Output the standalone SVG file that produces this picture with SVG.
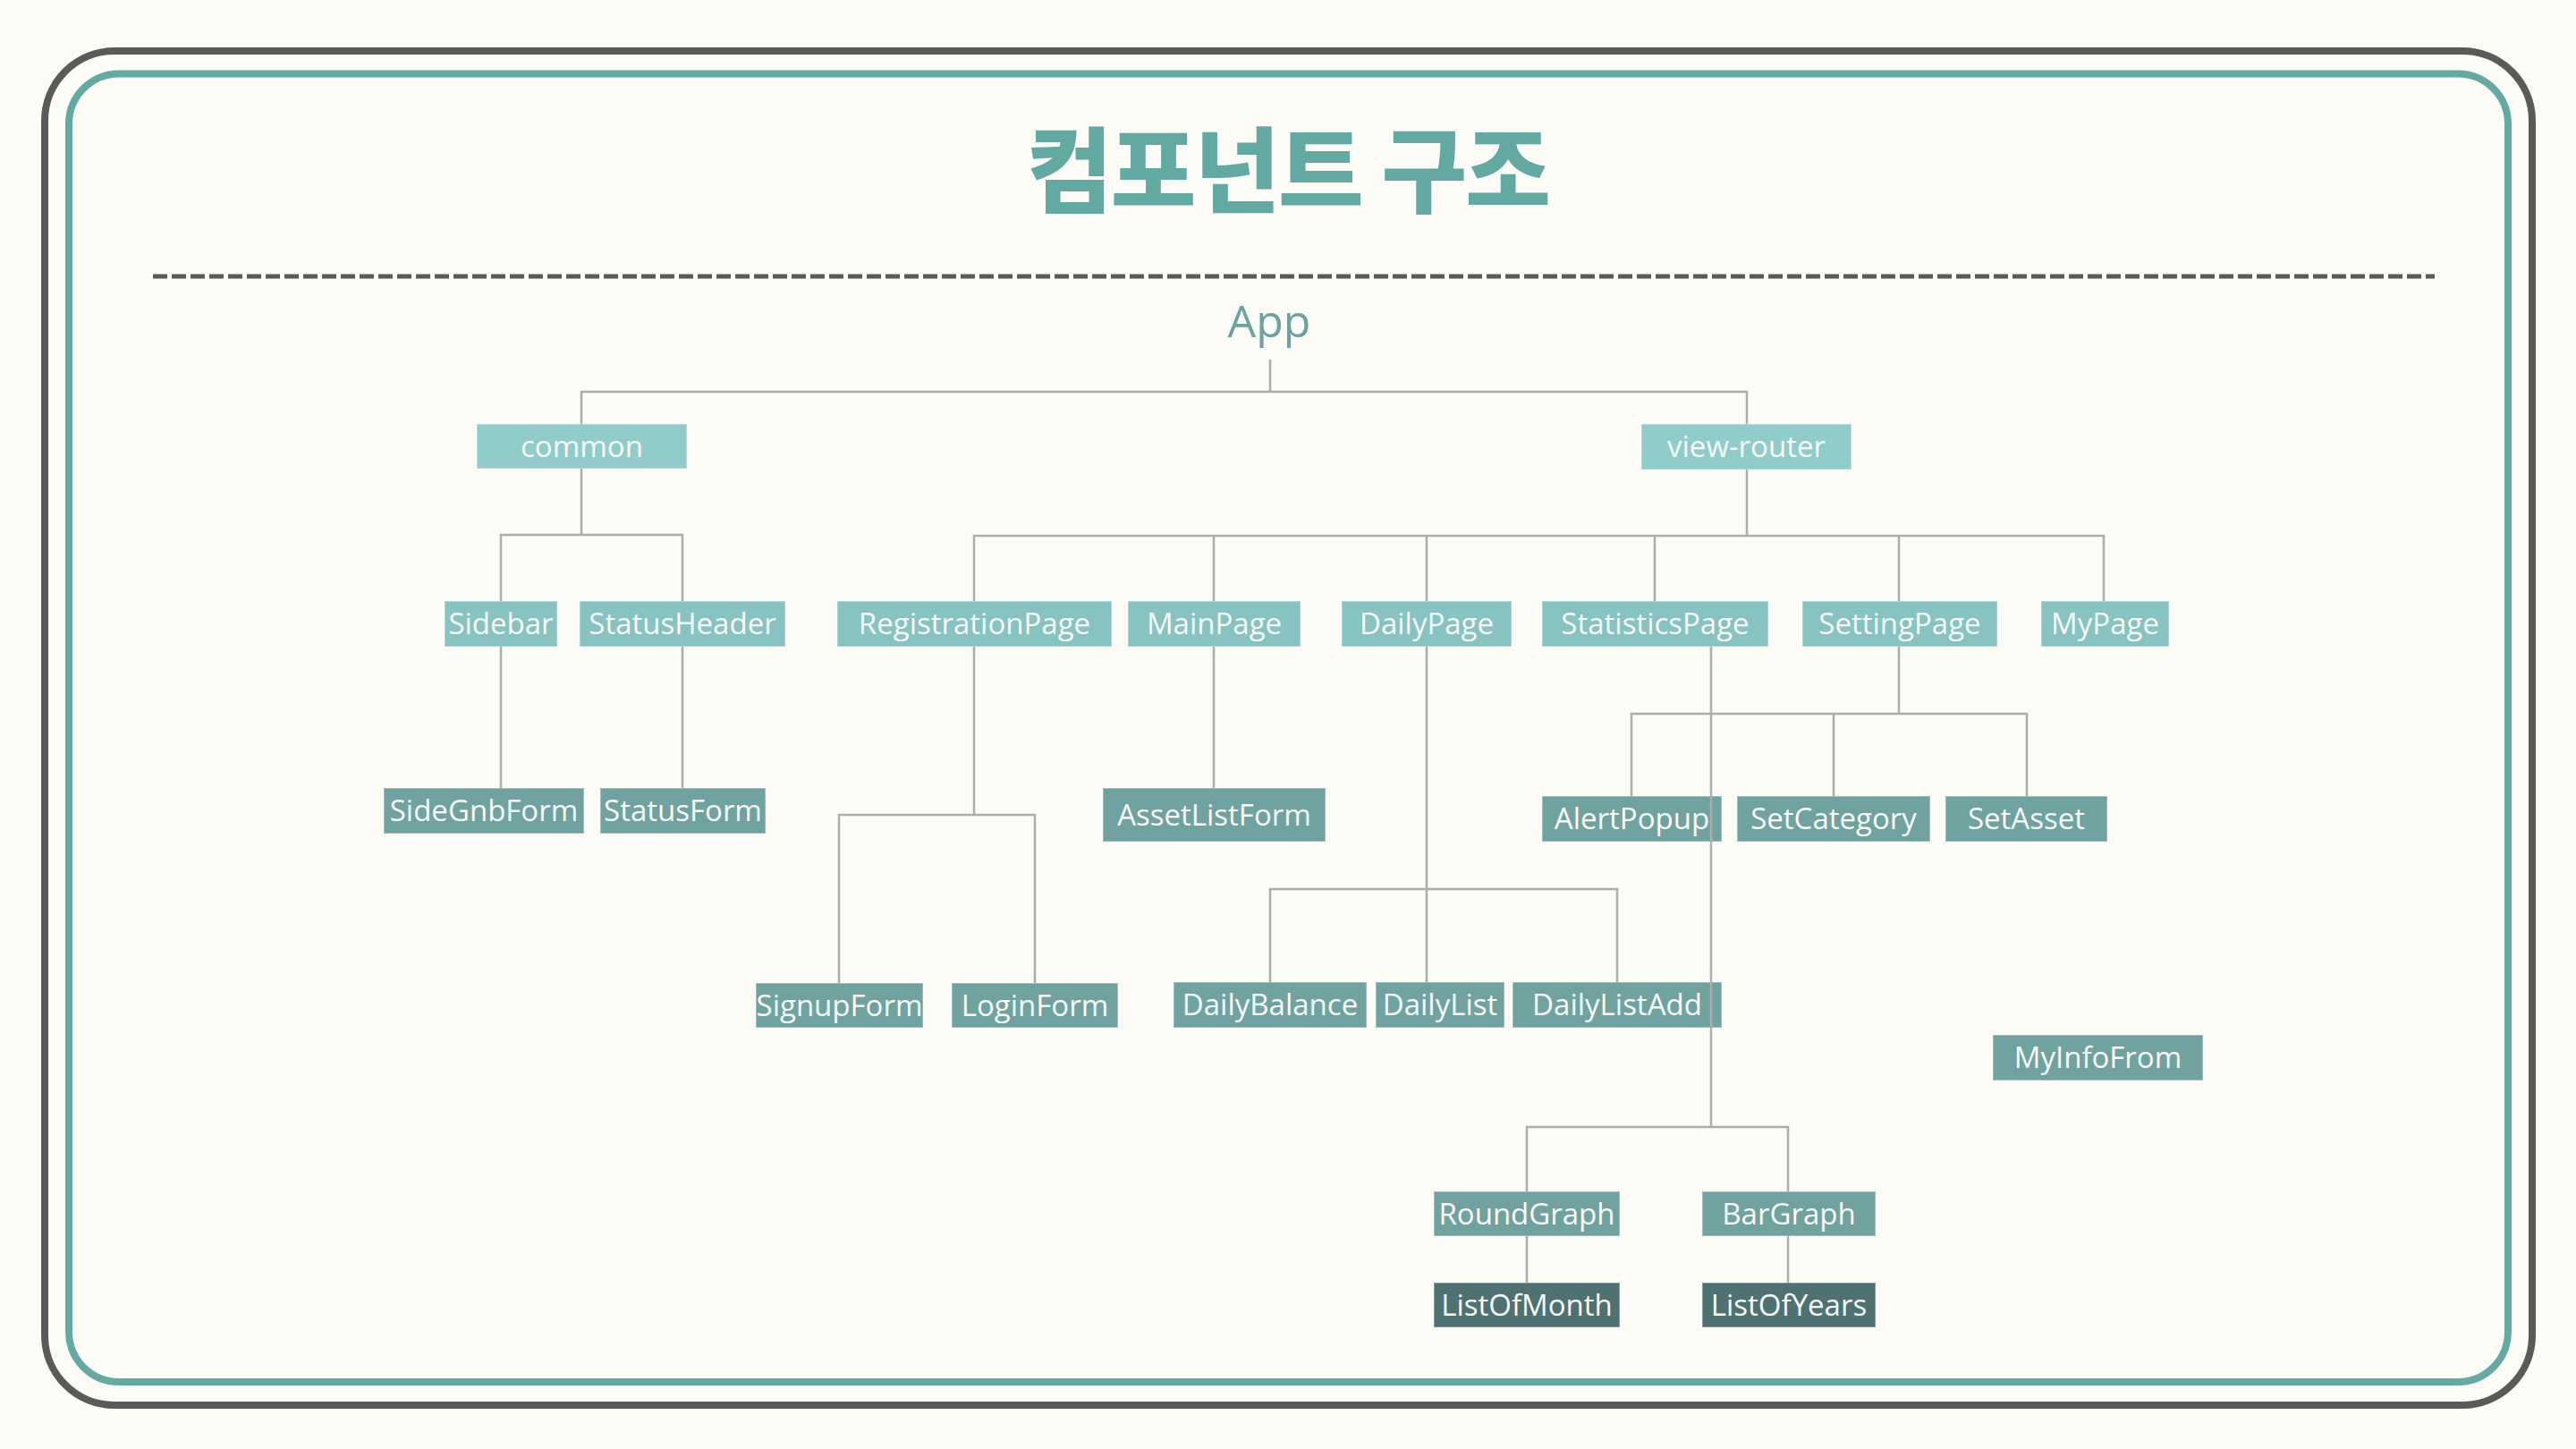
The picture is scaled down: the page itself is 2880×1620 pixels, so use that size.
<svg xmlns="http://www.w3.org/2000/svg" width="2880" height="1620" viewBox="0 0 2880 1620">
<style>
.bg{fill:#fcfbf6}
.frame-out{fill:none;stroke:#5a5a5a;stroke-width:8}
.frame-in{fill:none;stroke:#64aaa2;stroke-width:8}
.sep{stroke:#5a5a5a;stroke-width:5;stroke-dasharray:16 5}
.title{font-family:"Noto Sans CJK KR","Noto Sans",sans-serif;font-weight:900;font-size:104px;fill:#62aaa1;letter-spacing:-2px}
.app{font-family:"Open Sans","Noto Sans",sans-serif;font-weight:500;font-size:50px;fill:#6aa3a0}
.n rect{stroke:#ffffff;stroke-opacity:0.3;stroke-width:2}
.l1 rect{fill:#90cdca}
.l2 rect{fill:#87c3c0}
.l3 rect{fill:#70a3a0}
.l4 rect{fill:#4e7271}
.n text{font-family:"Open Sans","Noto Sans",sans-serif;font-weight:500;font-size:33px;fill:#f7faf8;text-anchor:middle}
.c path{fill:none;stroke:#adadad;stroke-width:2.5}
</style>
<rect class="bg" x="0" y="0" width="2880" height="1620"/>
<rect class="frame-out" x="50" y="57" width="2781" height="1514" rx="78" ry="78"/>
<rect class="frame-in" x="77" y="82.5" width="2727" height="1462.5" rx="56" ry="56"/>
<text class="title" x="1440" y="230" text-anchor="middle">컴포넌트 구조</text>
<line class="sep" x1="171" y1="309" x2="2722" y2="309"/>

<g id="App"><text class="app" x="1419" y="377" text-anchor="middle">App</text></g>

<g id="common" class="n l1"><rect x="533" y="474" width="235" height="50"/><text x="650.5" y="511">common</text></g>
<g id="view-router" class="n l1"><rect x="1835" y="474" width="235" height="51"/><text x="1952.5" y="511">view-router</text></g>

<g id="Sidebar" class="n l2"><rect x="497" y="672" width="126" height="51"/><text x="560" y="709">Sidebar</text></g>
<g id="StatusHeader" class="n l2"><rect x="648" y="672" width="230" height="51"/><text x="763" y="709">StatusHeader</text></g>
<g id="RegistrationPage" class="n l2"><rect x="936" y="672" width="307" height="51"/><text x="1089.5" y="709">RegistrationPage</text></g>
<g id="MainPage" class="n l2"><rect x="1261" y="672" width="193" height="51"/><text x="1357.5" y="709">MainPage</text></g>
<g id="DailyPage" class="n l2"><rect x="1500" y="672" width="190" height="51"/><text x="1595" y="709">DailyPage</text></g>
<g id="StatisticsPage" class="n l2"><rect x="1724" y="672" width="253" height="51"/><text x="1850.5" y="709">StatisticsPage</text></g>
<g id="SettingPage" class="n l2"><rect x="2015" y="672" width="218" height="51"/><text x="2124" y="709">SettingPage</text></g>
<g id="MyPage" class="n l2"><rect x="2282" y="672" width="143" height="51"/><text x="2353.5" y="709">MyPage</text></g>

<g id="SideGnbForm" class="n l3"><rect x="429" y="881" width="224" height="51"/><text x="541" y="918">SideGnbForm</text></g>
<g id="StatusForm" class="n l3"><rect x="671" y="881" width="185" height="51"/><text x="763.5" y="918">StatusForm</text></g>
<g id="SignupForm" class="n l3"><rect x="845" y="1099" width="187" height="50"/><text x="938.5" y="1136">SignupForm</text></g>
<g id="LoginForm" class="n l3"><rect x="1064" y="1099" width="186" height="50"/><text x="1157" y="1136">LoginForm</text></g>
<g id="AssetListForm" class="n l3"><rect x="1233" y="881" width="249" height="60"/><text x="1357.5" y="923">AssetListForm</text></g>
<g id="AlertPopup" class="n l3"><rect x="1724" y="890" width="201" height="51"/><text x="1824.5" y="927">AlertPopup</text></g>
<g id="SetCategory" class="n l3"><rect x="1942" y="890" width="216" height="51"/><text x="2050" y="927">SetCategory</text></g>
<g id="SetAsset" class="n l3"><rect x="2175" y="890" width="181" height="51"/><text x="2265.5" y="927">SetAsset</text></g>
<g id="DailyBalance" class="n l3"><rect x="1312" y="1098" width="216" height="51"/><text x="1420" y="1135">DailyBalance</text></g>
<g id="DailyList" class="n l3"><rect x="1538" y="1098" width="144" height="51"/><text x="1610" y="1135">DailyList</text></g>
<g id="DailyListAdd" class="n l3"><rect x="1691" y="1098" width="234" height="51"/><text x="1808" y="1135">DailyListAdd</text></g>
<g id="RoundGraph" class="n l3"><rect x="1603" y="1332" width="208" height="50"/><text x="1707" y="1369">RoundGraph</text></g>
<g id="BarGraph" class="n l3"><rect x="1903" y="1332" width="194" height="50"/><text x="2000" y="1369">BarGraph</text></g>
<g id="MyInfoFrom" class="n l3"><rect x="2228" y="1157" width="235" height="51"/><text x="2345.5" y="1194">MyInfoFrom</text></g>

<g id="ListOfMonth" class="n l4"><rect x="1603" y="1434" width="208" height="50"/><text x="1707" y="1471">ListOfMonth</text></g>
<g id="ListOfYears" class="n l4"><rect x="1903" y="1434" width="194" height="50"/><text x="2000" y="1471">ListOfYears</text></g>

<g id="connectors" class="c">
<path d="M1420 402V438M650 474V438H1953V474"/>
<path d="M650 524V598M560 672V598H763V672"/>
<path d="M1953 525V599M1089 672V599H2352V672M1357 599V672M1595 599V672M1850 599V672M2123 599V672"/>
<path d="M560 723V881M763 723V881"/>
<path d="M1089 723V911M938 1099V911H1157V1099"/>
<path d="M1357 723V881"/>
<path d="M1595 723V1098M1420 1098V994H1808V1098"/>
<path d="M2123 723V798M1824 890V798H2266V890M2050 798V890"/>
<path d="M1913 723V1260M1707 1332V1260H1999V1332"/>
<path d="M1707 1382V1434M1999 1382V1434"/>
</g>
</svg>
